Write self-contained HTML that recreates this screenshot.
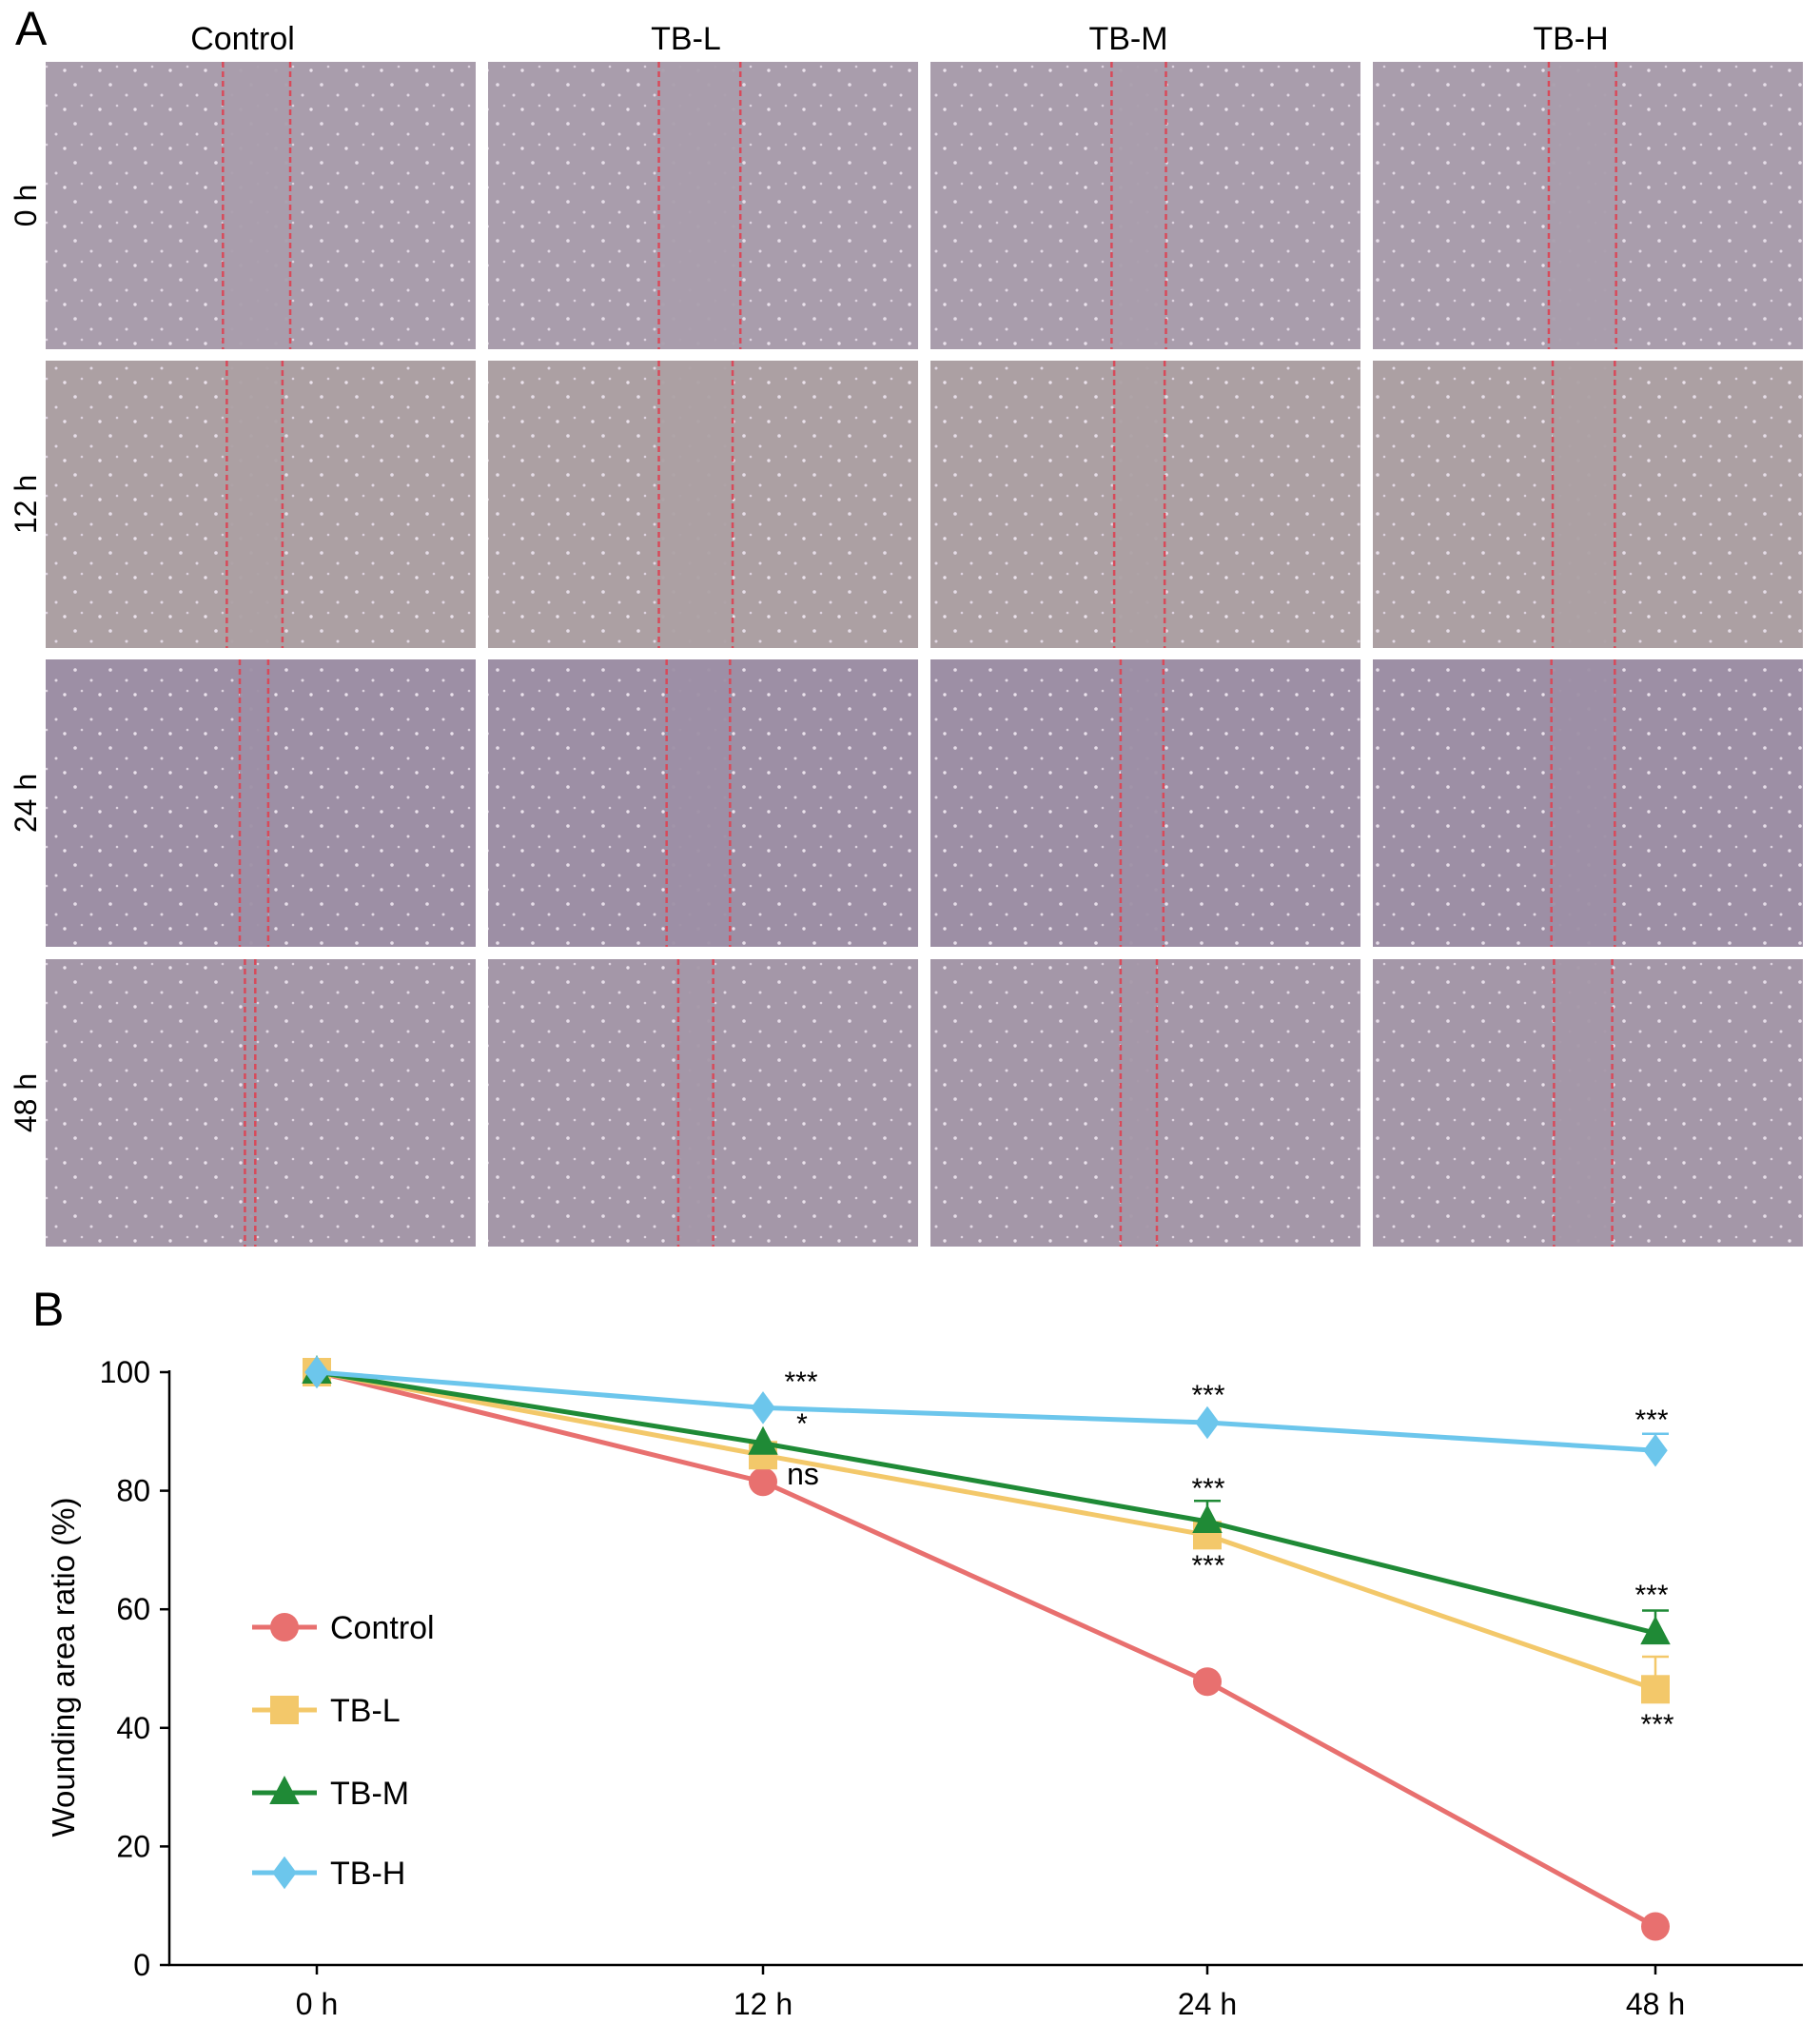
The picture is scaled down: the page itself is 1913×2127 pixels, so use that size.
<!DOCTYPE html>
<html><head><meta charset="utf-8"><style>
body{margin:0;background:#fff;}
svg{display:block;font-family:"Liberation Sans",sans-serif;}
</style></head><body>
<svg id="fig" width="1913" height="2127" viewBox="0 0 1913 2127">
<defs>
<pattern id="cells" width="37" height="41" patternUnits="userSpaceOnUse">
<circle cx="5" cy="7" r="1.8" fill="#e6dde8"/><circle cx="22" cy="18" r="1.5" fill="#e2d8e4"/><circle cx="31" cy="33" r="1.7" fill="#ebe2ec"/><circle cx="12" cy="29" r="1.3" fill="#ddd2df"/>
</pattern>
</defs>
<text x="16" y="47" font-size="50">A</text>
<g id="panelA"></g>
<text x="34" y="1393" font-size="50">B</text>
<g id="chart"></g>
</svg>
<script>
const groups=["Control","TB-L","TB-M","TB-H"];
const times=["0 h","12 h","24 h","48 h"];
const ctrl=[100,81.5,47.8,6.5];
const tbl=[100,86,72.5,46.5];
const tbm=[100,88,74.8,56];
const tbh=[100,94,91.5,86.8];
const tblErr=[0,0,0,5.5];
const tbmErr=[0,0,3.5,3.8];
const tbhErr=[0,0,0,2.8];
const yTicks=[0,20,40,60,80,100];
const gapL=[[137,132,140,136],[140,132,142,139],[150,138,147,138],[154,147,147,140]];
const gapR=[[189,195,182,188],[183,189,181,187],[172,187,180,187],[162,174,175,185]];
const NS="http://www.w3.org/2000/svg";
function mk(tag,attrs,parent,txt){const e=document.createElementNS(NS,tag);for(const k in attrs)e.setAttribute(k,attrs[k]);if(txt!==undefined)e.textContent=txt;parent.appendChild(e);return e;}
const A=document.getElementById('panelA');
const colX=[48,513,978,1443],rowY=[65,379,693,1008],PW=452,PH=302;
const rowCol=["#a99dac","#aca0a3","#9d8fa5","#a497a8"];
groups.forEach((g,c)=>{
 const t=mk('text',{x:colX[c]+PW/2+(c==0?-19:-18),y:52,'font-size':34,'text-anchor':'middle'},A,g);
 
 
});
times.forEach((tm,r)=>{
 const cy=rowY[r]+PH/2;
 const t=mk('text',{x:0,y:0,'font-size':32,'text-anchor':'middle',transform:`translate(38,${cy}) rotate(-90)`},A,tm);
 
 
 groups.forEach((g,c)=>{
  const gr=mk('g',{},A);
  
  
  mk('rect',{x:colX[c],y:rowY[r],width:PW,height:PH,fill:rowCol[r]},gr);
  mk('rect',{x:colX[c],y:rowY[r],width:PW,height:PH,fill:'url(#cells)'},gr);
  const l=colX[c]+gapL[r][c]*1.36,rr=colX[c]+gapR[r][c]*1.36;
  mk('rect',{x:l,y:rowY[r],width:rr-l,height:PH,fill:rowCol[r],opacity:0.95},gr);
  [l,rr].forEach(x=>mk('line',{x1:x,x2:x,y1:rowY[r],y2:rowY[r]+PH,stroke:'#d84a5a','stroke-width':2.5,'stroke-dasharray':'6 4'},gr));
 });
});
const C=document.getElementById('chart');
const xPos=i=>[333,802,1269,1740][i];
const yS=v=>2065-(2065-1442)*v/100;
mk('line',{x1:178,x2:178,y1:1440,y2:2066,stroke:'#000','stroke-width':2.5},C);
mk('line',{x1:177,x2:1895,y1:2065,y2:2065,stroke:'#000','stroke-width':2.5},C);
yTicks.forEach(v=>{
 mk('line',{x1:168,x2:178,y1:yS(v),y2:yS(v),stroke:'#000','stroke-width':2.5},C);
 const t=mk('text',{x:158,y:yS(v)+11,'font-size':32,'text-anchor':'end'},C,String(v));
 
 
});
times.forEach((tm,i)=>{
 mk('line',{x1:xPos(i),x2:xPos(i),y1:2065,y2:2075,stroke:'#000','stroke-width':2.5},C);
 const t=mk('text',{x:xPos(i),y:2117,'font-size':32,'text-anchor':'middle'},C,tm);
 
 
});
const yt=mk('text',{x:0,y:0,'font-size':33,'text-anchor':'middle',transform:'translate(78,1752) rotate(-90)'},C,'Wounding area ratio (%)');


const series=[{n:'control',d:ctrl,c:'#e8706f',m:'circle',e:null},{n:'tb-l',d:tbl,c:'#f3c86a',m:'square',e:tblErr},{n:'tb-m',d:tbm,c:'#1f8a36',m:'triangle',e:tbmErr},{n:'tb-h',d:tbh,c:'#6cc6ec',m:'diamond',e:tbhErr}];
function marker(p,m,x,y,c,s){
 if(m=='circle')return mk('circle',{cx:x,cy:y,r:s,fill:c},p);
 if(m=='square')return mk('rect',{x:x-s,y:y-s,width:2*s,height:2*s,fill:c},p);
 if(m=='triangle')return mk('polygon',{points:`${x},${y-s*1.2} ${x-s*1.05},${y+s*0.8} ${x+s*1.05},${y+s*0.8}`,fill:c},p);
 return mk('polygon',{points:`${x},${y-s*1.15} ${x+s*0.85},${y} ${x},${y+s*1.15} ${x-s*0.85},${y}`,fill:c},p);
}
series.forEach(s=>{
 const g=mk('g',{},C);
 
 
 mk('polyline',{points:s.d.map((v,i)=>xPos(i)+','+yS(v)).join(' '),fill:'none',stroke:s.c,'stroke-width':5},g);
 s.d.forEach((v,i)=>{
  if(s.e&&s.e[i]>0){const yt=yS(v+s.e[i]);mk('line',{x1:xPos(i),x2:xPos(i),y1:yt,y2:yS(v),stroke:s.c,'stroke-width':2.5},g);mk('line',{x1:xPos(i)-14,x2:xPos(i)+14,y1:yt,y2:yt,stroke:s.c,'stroke-width':2.5},g);}
  const mm=marker(g,s.m,xPos(i),yS(v),s.c,15);
  
  
 });
});
const ann=[["***",842,1462],["*",843,1506],["ns",844,1560],["***",1270,1476],["***",1270,1574],["***",1270,1655],["***",1736,1502],["***",1736,1686],["***",1742,1822]];
ann.forEach((a,i)=>{
 const t=mk('text',{x:a[1],y:a[2],'font-size':a[0]=='ns'?32:30,'text-anchor':'middle'},C,a[0]);
 
 
});
const legY=[1710,1797,1884,1968];
series.forEach((s,i)=>{
 const g=mk('g',{},C);
 
 
 mk('line',{x1:265,x2:333,y1:legY[i],y2:legY[i],stroke:s.c,'stroke-width':5},g);
 marker(g,s.m,299,legY[i],s.c,15);
 mk('text',{x:347,y:legY[i]+12,'font-size':34},g,groups[i]);
});
</script>
</body></html>
